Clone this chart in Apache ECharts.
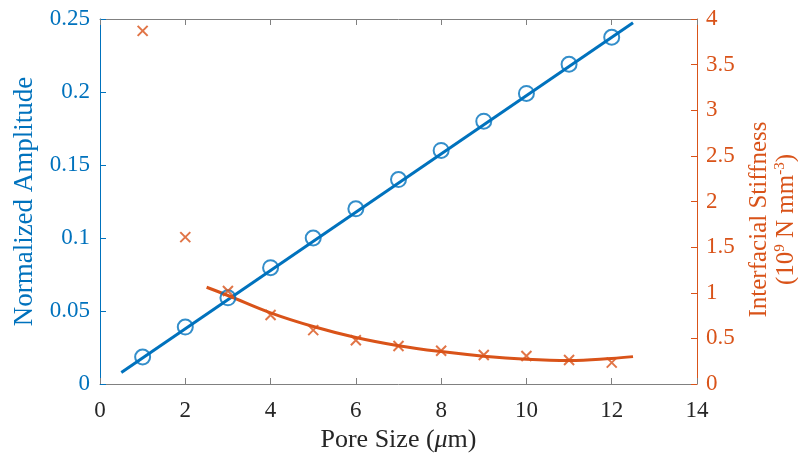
<!DOCTYPE html>
<html>
<head>
<meta charset="utf-8">
<script src="https://cdn.jsdelivr.net/npm/echarts@6/dist/echarts.min.js"></script>
<style>
  html, body { margin: 0; padding: 0; background: #fff; }
  #chart { width: 798px; height: 455px; }
</style>
</head>
<body>
<div id="chart"></div>
<script>
// Pore size (µm) at each measured sample
const poreSize = [1, 2, 3, 4, 5, 6, 7, 8, 9, 10, 11, 12];
// Normalized amplitude measured at each pore size
const amplitude = [0.0185, 0.039, 0.059, 0.0797, 0.100, 0.120, 0.140, 0.160, 0.180, 0.199, 0.219, 0.2375];
// Interfacial stiffness (10^9 N mm^-3) at each pore size
const stiffness = [3.87, 1.61, 1.02, 0.756, 0.59, 0.48, 0.416, 0.365, 0.318, 0.307, 0.263, 0.234];
// Linear fit of the amplitude (end points)
const ampFitX = [0.5, 12.5];
const ampFitY = [0.0079, 0.2475];
// Fitted stiffness curve, read along its length
const stiffFitX = [2.5, 3, 4, 5, 6, 7, 8, 9, 10, 11, 12, 12.5];
const stiffFitY = [1.06, 0.97, 0.78, 0.63, 0.51, 0.42, 0.355, 0.305, 0.272, 0.258, 0.28, 0.30];
// Tick values on each axis
const xTicks = [0, 2, 4, 6, 8, 10, 12, 14];
const leftTicks = [0, 0.05, 0.1, 0.15, 0.2, 0.25];
const rightTicks = [0, 0.5, 1, 1.5, 2, 2.5, 3, 3.5, 4];

const BLUE = '#0072BD';
const ORANGE = '#D95319';
const BOX = '#808080';
const TEXT = '#262626';
const FONT = '"Liberation Serif", "Times New Roman", serif';

const zip = (xs, ys) => xs.map((x, i) => [x, ys[i]]);
const step = a => a[1] - a[0];

const chart = echarts.init(document.getElementById('chart'), null, { renderer: 'canvas' });

chart.setOption({
  animation: false,
  backgroundColor: '#fff',
  grid: { left: 100, right: 101, top: 19, bottom: 71, containLabel: false, outerBoundsMode: 'none' },
  xAxis: [
    {
      type: 'value',
      min: xTicks[0], max: xTicks[xTicks.length - 1], interval: step(xTicks),
      position: 'bottom',
      name: 'Pore Size ({it|\u03bc}m)',
      nameLocation: 'middle',
      nameGap: 42,
      nameTextStyle: {
        color: TEXT, fontFamily: FONT, fontSize: 26,
        rich: { it: { fontStyle: 'italic', fontFamily: FONT, fontSize: 26, color: TEXT } }
      },
      axisLine: { onZero: false, lineStyle: { color: BOX, width: 1 } },
      axisTick: { inside: true, length: 6, lineStyle: { color: BOX } },
      axisLabel: { color: TEXT, fontFamily: FONT, fontSize: 23, margin: 15 },
      splitLine: { show: false }
    },
    {
      type: 'value',
      min: xTicks[0], max: xTicks[xTicks.length - 1], interval: step(xTicks),
      position: 'top',
      axisLine: { onZero: false, lineStyle: { color: BOX, width: 1 } },
      axisTick: { inside: true, length: 6, lineStyle: { color: BOX } },
      axisLabel: { show: false },
      splitLine: { show: false }
    }
  ],
  yAxis: [
    {
      type: 'value',
      min: leftTicks[0], max: leftTicks[leftTicks.length - 1], interval: step(leftTicks),
      position: 'left',
      name: 'Normalized Amplitude',
      nameLocation: 'middle',
      nameGap: 62,
      nameTextStyle: { color: BLUE, fontFamily: FONT, fontSize: 27 },
      axisLine: { show: true, onZero: false, lineStyle: { color: BLUE, width: 1 } },
      axisTick: { show: true, inside: true, length: 6, lineStyle: { color: BLUE } },
      axisLabel: {
        color: BLUE, fontFamily: FONT, fontSize: 23, margin: 10,
        formatter: v => (v === 0 ? '0' : String(+v.toFixed(2)))
      },
      splitLine: { show: false }
    },
    {
      type: 'value',
      min: rightTicks[0], max: rightTicks[rightTicks.length - 1], interval: step(rightTicks),
      position: 'right',
      name: 'Interfacial Stiffness\n(10{sup|9} N mm{sup|-3})',
      nameLocation: 'middle',
      nameGap: 49,
      nameRotate: 90,
      nameTextStyle: {
        color: ORANGE, fontFamily: FONT, fontSize: 25, lineHeight: 27, align: 'center',
        padding: [0, 36, 0, 0],
        rich: { sup: { fontSize: 15, fontFamily: FONT, color: ORANGE, verticalAlign: 'top', lineHeight: 27 } }
      },
      axisLine: { show: true, onZero: false, lineStyle: { color: ORANGE, width: 1 } },
      axisTick: { show: true, inside: true, length: 6, lineStyle: { color: ORANGE } },
      axisLabel: { color: ORANGE, fontFamily: FONT, fontSize: 23, margin: 9 },
      splitLine: { show: false }
    }
  ],
  series: [
    {
      name: 'Amplitude fit', type: 'line', xAxisIndex: 0, yAxisIndex: 0,
      data: zip(ampFitX, ampFitY), showSymbol: false, symbol: 'none',
      lineStyle: { color: BLUE, width: 3 }, z: 2
    },
    {
      name: 'Amplitude', type: 'scatter', xAxisIndex: 0, yAxisIndex: 0,
      data: zip(poreSize, amplitude), symbol: 'circle', symbolSize: 15,
      itemStyle: { color: 'rgba(0,0,0,0)', borderColor: BLUE, borderWidth: 2 }, z: 3
    },
    {
      name: 'Stiffness fit', type: 'line', xAxisIndex: 0, yAxisIndex: 1,
      data: zip(stiffFitX, stiffFitY), showSymbol: false, symbol: 'none', smooth: 0.4,
      lineStyle: { color: ORANGE, width: 3 }, z: 2
    },
    {
      name: 'Stiffness', type: 'scatter', xAxisIndex: 0, yAxisIndex: 1,
      data: zip(poreSize, stiffness),
      symbol: 'path://M0,0L10,10M10,0L0,10', symbolSize: 10,
      itemStyle: { color: 'rgba(0,0,0,0)', borderColor: ORANGE, borderWidth: 2 }, z: 3
    }
  ]
});
</script>
</body>
</html>
